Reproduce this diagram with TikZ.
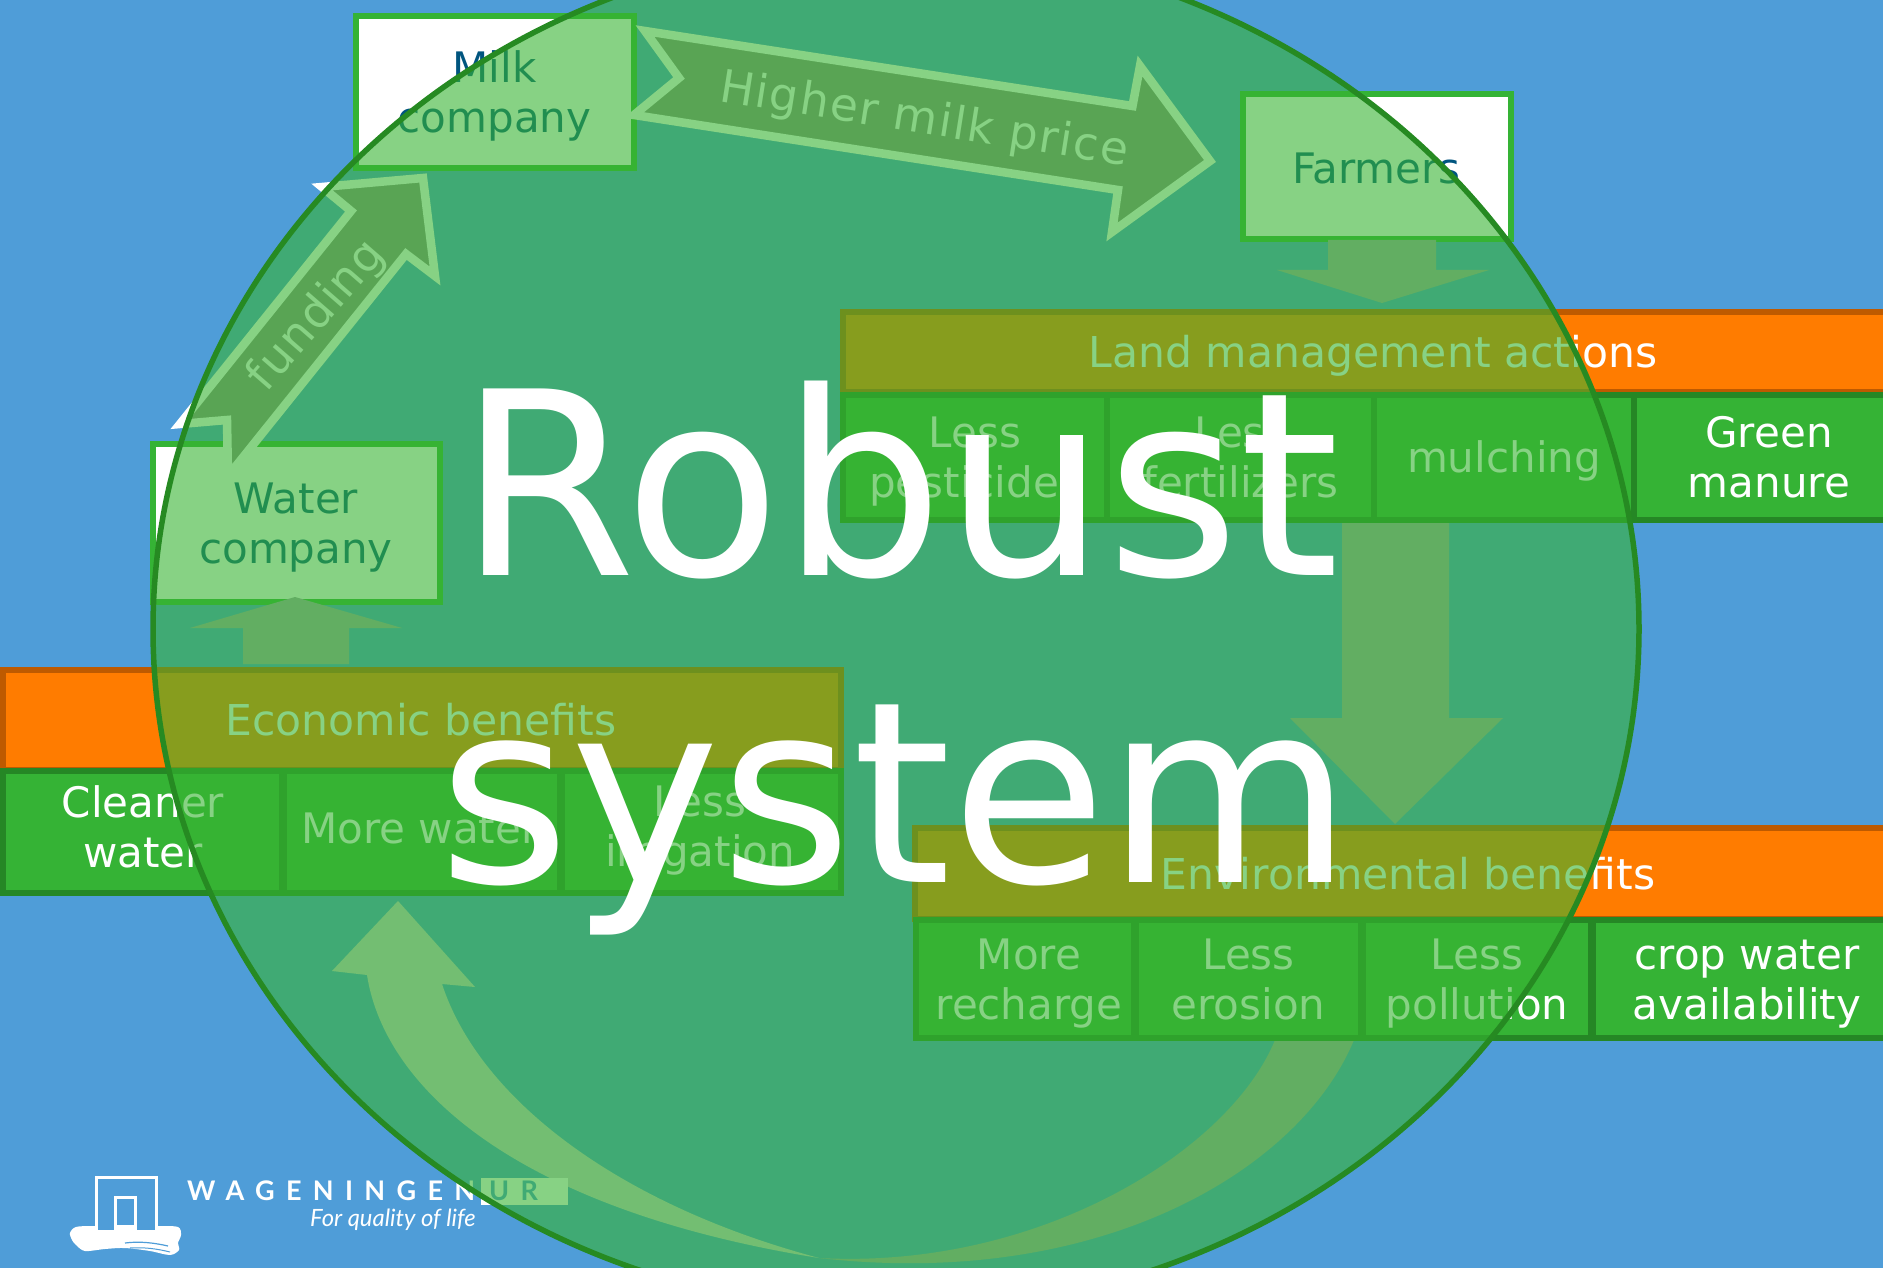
\documentclass[tikz,border=0pt]{standalone}
\usepackage{fontspec}
\setmainfont{DejaVu Sans}
\newfontfamily\arrowfont{DejaVu Sans}[LetterSpace=3.6]
\newfontfamily\logofont{Lato}[LetterSpace=42]
\newfontfamily\tagfont{Lato}
\newcommand{\topr}{\rule{0pt}{41pt}}
\newcommand{\botr}{\rule[-10pt]{0pt}{10pt}}
\definecolor{skyblue}{HTML}{4F9DD8}
\definecolor{boxgreen}{HTML}{35B335}
\definecolor{boxedge}{HTML}{258725}
\definecolor{barorange}{HTML}{FF7C00}
\definecolor{baredge}{HTML}{BE5A00}
\definecolor{inkblue}{HTML}{00557F}
\definecolor{veilgreen}{HTML}{37B432}
\definecolor{veiledge}{HTML}{268A22}
\definecolor{blockgray}{HTML}{8E8E88}
\definecolor{shaftgray}{HTML}{A3A5AA}
\definecolor{palegray}{HTML}{CFCFD2}
\tikzset{
  actor/.style={draw=boxgreen,line width=6pt,fill=white,text=inkblue,inner sep=0pt,align=center,font=\fontsize{42}{50}\selectfont},
  cell/.style={draw=boxedge,line width=6pt,fill=boxgreen,text=white,inner sep=0pt,align=center,font=\fontsize{42}{50}\selectfont},
  bar/.style={draw=baredge,line width=6pt,fill=barorange,inner sep=0pt},
  barlabel/.style={text=white,inner sep=0pt,font=\fontsize{42.5}{50}\selectfont},
  celllabel/.style={text=white,inner sep=0pt,align=center,font=\fontsize{42}{50}\selectfont},
  block/.style={draw=white,line width=8.5pt,fill=blockgray,miter limit=10},
  blocktext/.style={text=white,inner sep=0pt,font=\arrowfont\fontsize{45.5}{50}\selectfont},
  bigword/.style={text=white,inner sep=0pt,anchor=base}
}
\begin{document}
\begin{tikzpicture}[x=1pt,y=-1pt]
\useasboundingbox (0,0) rectangle (1883,1268);
\clip (0,0) rectangle (1883,1268);
\fill[skyblue] (0,0) rectangle (1883,1268);

% actors
\node[actor,minimum width=278pt,minimum height=152pt] (milk) at (494.5,92.5) {\topr Milk\\\botr company};
\node[actor,minimum width=268pt,minimum height=145pt] (farmers) at (1376.5,166.5) {\rule{0pt}{45pt}\botr Farmers};
\node[actor,minimum width=287pt,minimum height=158pt] (water) at (296,522.5) {\topr Water\\\botr company};

% thick plain arrows
\fill[shaftgray] (1328,240) -- (1436,240) -- (1436,270) -- (1489,270) -- (1382,303) -- (1277,270) -- (1328,270) -- cycle;
\fill[shaftgray] (1342,518) -- (1449,518) -- (1449,718) -- (1503,718) -- (1395,824) -- (1290,718) -- (1342,718) -- cycle;
\fill[shaftgray] (243,664) -- (243,628) -- (190,628) -- (295,597) -- (402,628) -- (349,628) -- (349,664) -- cycle;

% curved arrow
\fill[shaftgray] (1275,1040) .. controls (1230,1150) and (1040,1270) .. (819,1258)
  .. controls (1100,1290) and (1300,1170) .. (1354,1040) -- cycle;
\fill[palegray] (398,901) -- (475,987) -- (442,984)
  .. controls (480,1100) and (620,1205) .. (819,1258)
  .. controls (520,1210) and (385,1090) .. (367,975)
  -- (332,971) -- cycle;

% land management
\node[bar,minimum width=1060pt,minimum height=80pt] (land) at (1373,352) {};
\node[barlabel] (landlabel) at (1373,356) {Land management actions};
\node[cell,minimum width=264pt,minimum height=125pt] (pest) at (975,457) {\topr Less\\\botr pesticides};
\node[cell,minimum width=267pt,minimum height=125pt] (fert) at (1240.5,457) {\topr Less\\\botr fertilizers};
\node[cell,minimum width=260pt,minimum height=125pt] (mulch) at (1504,457) {\topr\botr mulching};
\node[cell,minimum width=270pt,minimum height=125pt] (manure) at (1769,457) {\topr Green\\\botr manure};

% economic benefits
\node[bar,minimum width=838pt,minimum height=100pt] (econ) at (422,720) {};
\node[barlabel] (econlabel) at (421,720) {Economic benefits};
\node[cell,minimum width=279pt,minimum height=122pt] (clean) at (142.5,832) {};
\node[celllabel] (cleanlabel) at (143,827) {Cleaner\\water};
\node[cell,minimum width=276pt,minimum height=122pt] (more) at (422,832) {};
\node[celllabel] (morelabel) at (420,828) {More water};
\node[cell,minimum width=279pt,minimum height=122pt] (irrig) at (701.5,832) {};
\node[celllabel] (irriglabel) at (700,831) {Less\\irrigation};

% environmental benefits
\node[bar,minimum width=985pt,minimum height=91pt] (env) at (1407,873.5) {};
\node[barlabel] (envlabel) at (1408,874) {Environmental benefits};
\node[cell,minimum width=218pt,minimum height=118pt] (recharge) at (1025,979) {\hspace*{8pt}\topr More\\\hspace*{8pt}\botr recharge};
\node[cell,minimum width=225pt,minimum height=118pt] (erosion) at (1248.5,979) {\topr Less\\\botr erosion};
\node[cell,minimum width=228pt,minimum height=118pt] (pollution) at (1477,979) {\topr Less\\\botr pollution};
\node[cell,minimum width=308pt,minimum height=118pt] (avail) at (1747,979) {\topr crop water\\\botr availability};

% outlined arrows
\draw[block] (645,31) -- (679,78) -- (634,115) -- (1118,190) -- (1112,232) -- (1210,161) -- (1140,66) -- (1132.5,106) -- cycle;
\node[blocktext,rotate=-9] (price) at (924,121) {Higher milk price};
\draw[block] (423,178) -- (435,276) -- (406,254) -- (228,476) -- (227,420) -- (180,424) -- (351,211) -- (322,187) -- cycle;
\node[blocktext,rotate=49] (fund) at (317,316) {funding};

% logo
\fill[white] plot[smooth cycle] coordinates {(70,1233) (76,1227) (95,1226) (157,1226) (178,1227) (181,1235) (178,1243) (179,1250) (170,1255) (150,1251) (125,1248) (105,1249) (85,1251) (76,1245) (72,1240)};
\draw[skyblue,line width=1.2pt] (125,1243) .. controls (140,1241) and (155,1243) .. (168,1246);
\draw[skyblue,line width=1pt] (130,1248) .. controls (145,1247) and (158,1249) .. (170,1252);
\fill[skyblue] (97,1178) rectangle (155,1230);
\draw[white,line width=3pt] (96,1230) -- (96,1177.5) -- (156,1177.5) -- (156,1230);
\fill[white] (114,1196) rectangle (137,1231);
\fill[skyblue] (117,1199) rectangle (134,1225);
\node[inner sep=0pt,anchor=base west,text=white,font=\logofont\bfseries\fontsize{27}{27}\selectfont] (wag) at (187,1200) {WAGENINGEN};
\node[fill=white,minimum width=87pt,minimum height=27pt,inner sep=0pt] (urbox) at (524.5,1191.5) {};
\node[inner sep=0pt,anchor=base west,text=skyblue,font=\logofont\bfseries\fontsize{27}{27}\selectfont] (ur) at (489,1200) {UR};
\node[inner sep=0pt,anchor=base west,text=white,font=\tagfont\itshape\fontsize{23.8}{24}\selectfont] (tag) at (310,1226) {For quality of life};

% veil
\fill[veilgreen,fill opacity=.6] (896,629) ellipse [x radius=743pt,y radius=683pt];
\draw[veiledge,line width=5.5pt] (896,629) ellipse [x radius=743pt,y radius=683pt];

% title
\node[bigword,font=\fontsize{256}{256}\selectfont] (robust) at (899,575) {Robust};
\node[bigword,font=\fontsize{253}{253}\selectfont] (system) at (896,882) {system};
\end{tikzpicture}
\end{document}
